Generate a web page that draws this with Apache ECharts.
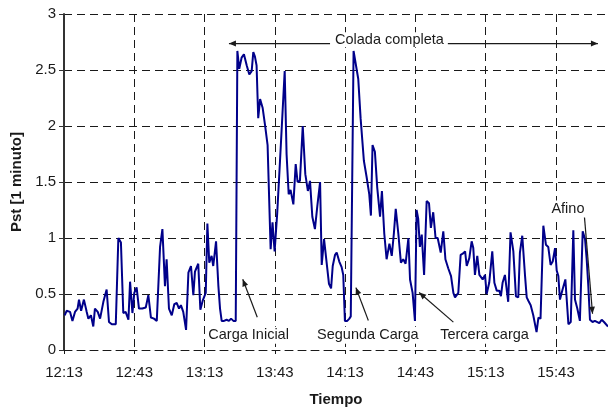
<!DOCTYPE html>
<html>
<head>
<meta charset="utf-8">
<script src="https://cdn.jsdelivr.net/npm/echarts@6/dist/echarts.min.js"></script>
<style>
  html, body { margin: 0; padding: 0; background: #fff; }
  #chart { width: 608px; height: 412px; }
</style>
</head>
<body>
<div id="chart"></div>
<script>
// Minutes elapsed since 12:13 for each 1-minute Pst sample
const minutes = [
  0.3, 1.1, 2.6, 3.6, 4.7, 5.8, 6.4, 7.3, 8.5, 9.7, 10.4, 11.5, 12.5, 13.2, 14.4, 15.4, 16.8, 18.2, 19.2, 20.4,
  22.1, 23.2, 24.3, 25.3, 26.3, 27.5, 28.2, 29.2, 30.0, 31.0, 32.0, 33.4, 34.9, 36.0, 37.1, 38.4, 39.6, 41.0, 42.0, 43.1,
  43.8, 44.8, 46.0, 47.1, 48.1, 49.1, 49.9, 50.9, 52.1, 53.1, 54.2, 55.2, 55.9, 57.3, 58.2, 59.2, 60.5, 61.2, 62.0, 63.0,
  63.7, 64.9, 65.9, 66.6, 67.3, 68.3, 69.4, 70.4, 71.3, 72.3, 73.3, 74.0, 74.8, 75.8, 76.8, 78.0, 79.1, 80.1, 80.8, 81.5,
  82.2, 82.9, 83.7, 84.8, 85.8, 86.9, 88.2, 89.0, 89.9, 91.0, 92.2, 93.3, 94.2, 95.0, 95.9, 96.7, 97.9, 98.9, 99.7, 100.7,
  101.9, 103.0, 104.1, 105.0, 106.0, 107.1, 108.1, 109.3, 110.0, 111.0, 112.1, 113.1, 114.0, 114.7, 115.7, 116.4, 117.5, 118.5, 119.2, 119.9,
  120.9, 121.8, 122.4, 123.6, 125.6, 126.6, 128.0, 129.2, 130.3, 131.0, 131.7, 132.7, 133.7, 134.9, 135.7, 136.7, 137.7, 138.9, 139.9, 140.8,
  141.6, 142.7, 143.8, 144.8, 145.8, 147.0, 147.7, 148.8, 149.8, 150.5, 151.2, 151.9, 152.7, 153.7, 154.8, 155.8, 156.6, 157.6, 158.6, 159.5,
  160.8, 161.9, 162.8, 164.0, 165.2, 166.2, 166.9, 168.3, 169.3, 170.2, 171.2, 171.9, 173.0, 174.0, 174.7, 175.4, 176.4, 177.3, 177.8, 178.7,
  179.7, 180.4, 181.5, 182.8, 183.7, 184.7, 185.8, 186.5, 187.2, 188.2, 188.9, 189.6, 190.6, 191.8, 192.9, 193.9, 194.6, 195.6, 196.8, 197.5,
  198.2, 199.2, 200.3, 201.7, 202.5, 203.4, 204.6, 205.7, 206.7, 207.7, 208.6, 209.6, 210.3, 211.0, 211.7, 212.8, 214.0, 215.3, 216.3, 217.4,
  218.1, 219.1, 220.2, 221.4, 222.4, 223.1, 223.8, 224.5, 225.6, 226.6, 227.3, 228.5, 229.5, 230.5, 231.3, 232.2
];

// Short-term flicker severity Pst [1 minuto]
const pst = [
  0.31, 0.35, 0.34, 0.26, 0.34, 0.37, 0.45, 0.35, 0.45, 0.34, 0.28, 0.31, 0.21, 0.37, 0.34, 0.28, 0.43, 0.54, 0.25, 0.23,
  0.23, 1.00, 0.96, 0.33, 0.34, 0.27, 0.61, 0.33, 0.51, 0.56, 0.37, 0.37, 0.38, 0.49, 0.29, 0.28, 0.26, 0.92, 1.08, 0.57,
  0.81, 0.37, 0.31, 0.41, 0.42, 0.37, 0.40, 0.34, 0.18, 0.69, 0.75, 0.49, 0.70, 0.77, 0.36, 0.44, 0.51, 1.13, 0.78, 0.84,
  0.75, 0.97, 0.57, 0.37, 0.26, 0.26, 0.27, 0.26, 0.28, 0.26, 0.26, 2.67, 2.51, 2.61, 2.64, 2.54, 2.46, 2.49, 2.66, 2.62,
  2.54, 2.07, 2.24, 2.16, 2.01, 1.83, 0.90, 1.14, 0.88, 1.22, 1.69, 2.13, 2.49, 1.75, 1.39, 1.43, 1.30, 1.66, 1.50, 1.51,
  2.00, 1.57, 1.42, 1.51, 1.19, 1.08, 1.28, 1.50, 0.76, 0.99, 0.78, 0.59, 0.55, 0.75, 0.85, 0.87, 0.79, 0.74, 0.67, 0.26,
  0.26, 0.28, 0.30, 2.67, 2.42, 2.07, 1.69, 1.54, 1.39, 1.20, 1.83, 1.77, 1.45, 1.19, 1.42, 1.04, 0.81, 0.95, 0.84, 1.04,
  1.26, 1.04, 0.78, 0.81, 0.77, 1.00, 0.63, 0.51, 0.26, 1.25, 1.17, 0.92, 1.03, 0.67, 1.33, 1.31, 1.09, 1.23, 1.00, 1.00,
  0.87, 1.06, 0.81, 0.73, 0.66, 0.51, 0.47, 0.51, 0.85, 0.86, 0.88, 0.75, 0.82, 0.97, 0.91, 0.67, 0.84, 0.67, 0.66, 0.63,
  0.67, 0.50, 0.60, 0.88, 0.60, 0.53, 0.53, 0.48, 0.60, 0.67, 0.67, 0.43, 1.05, 0.88, 0.48, 0.47, 0.87, 1.02, 0.66, 0.47,
  0.44, 0.40, 0.31, 0.16, 0.29, 0.28, 1.11, 0.94, 0.92, 0.76, 0.79, 0.91, 0.71, 0.66, 0.45, 0.54, 0.63, 0.23, 0.25, 1.07,
  0.45, 0.37, 0.26, 1.06, 0.99, 0.81, 0.57, 0.27, 0.25, 0.26, 0.25, 0.24, 0.27, 0.25, 0.25, 0.21
];

// Time tick labels, one every 30 minutes
const timeLabels = ['12:13', '12:43', '13:13', '13:43', '14:13', '14:43', '15:13', '15:43'];

// Process stage annotations
const noteTexts = ['Colada completa', 'Carga Inicial', 'Segunda Carga', 'Tercera carga', 'Afino'];

const FONT = '"Liberation Sans", Arial, sans-serif';
const INK = '#1a1a1a';
const DASH = [8, 5];

const chart = echarts.init(document.getElementById('chart'), null, { renderer: 'canvas' });

chart.setOption({
  animation: false,
  backgroundColor: '#fff',
  grid: { left: 64, right: 0, top: 14, bottom: 57 },
  xAxis: {
    type: 'value',
    min: 0,
    max: 232.2,
    interval: 30,
    name: 'Tiempo',
    nameLocation: 'middle',
    nameGap: 42,
    nameTextStyle: { fontFamily: FONT, fontSize: 15, fontWeight: 'bold', color: INK },
    axisLine: { show: true, lineStyle: { color: INK, width: 1, type: DASH } },
    axisTick: { show: true, length: 4, lineStyle: { color: INK } },
    axisLabel: {
      fontFamily: FONT, fontSize: 15, color: INK, margin: 15,
      showMaxLabel: false,
      formatter: v => {
        const i = Math.round(v / 30);
        return Math.abs(v - i * 30) < 1e-6 && i < timeLabels.length ? timeLabels[i] : '';
      }
    },
    splitLine: { show: true, showMaxLine: false, lineStyle: { color: INK, width: 1, type: DASH } }
  },
  yAxis: {
    type: 'value',
    min: 0,
    max: 3,
    interval: 0.5,
    name: 'Pst [1 minuto]',
    nameLocation: 'middle',
    nameGap: 39,
    nameTextStyle: { fontFamily: FONT, fontSize: 15, fontWeight: 'bold', color: INK },
    axisLine: { show: true, lineStyle: { color: '#333', width: 2 } },
    axisTick: { show: true, length: 5, lineStyle: { color: '#333' } },
    axisLabel: { fontFamily: FONT, fontSize: 15, color: INK, margin: 8 },
    splitLine: { show: true, lineStyle: { color: INK, width: 1, type: DASH } }
  },
  series: [{
    type: 'line',
    data: minutes.map((m, i) => [m, pst[i]]),
    showSymbol: false,
    lineStyle: { color: '#00008a', width: 2 },
    itemStyle: { color: '#00008a' },
    z: 3
  }]
});

// Annotation layout in data space: [minutes, Pst]
const notes = [
  { text: noteTexts[0], at: [138.7, 2.77], pad: [0, 4, 0, 5] },
  { text: noteTexts[1], at: [78.8, 0.132], pad: [1, 2] },
  { text: noteTexts[2], at: [129.7, 0.132], pad: [1, 2] },
  { text: noteTexts[3], at: [179.5, 0.132], pad: [1, 2] },
  { text: noteTexts[4], at: [215.1, 1.26], pad: [1, 2] }
];
const arrows = [
  { from: [70.4, 2.736], to: [227.9, 2.736], both: true },
  { from: [82.5, 0.293], to: [76.3, 0.631] },
  { from: [129.9, 0.264], to: [124.6, 0.557] },
  { from: [166.2, 0.249], to: [151.6, 0.513] },
  { from: [222.1, 1.20], to: [225.6, 0.323] }
];

const toPx = p => chart.convertToPixel({ gridIndex: 0 }, p);

function head(tip, tail) {
  const dx = tip[0] - tail[0], dy = tip[1] - tail[1];
  const len = Math.hypot(dx, dy) || 1;
  const ux = dx / len, uy = dy / len;
  const L = 7, W = 3;
  const bx = tip[0] - ux * L, by = tip[1] - uy * L;
  return {
    type: 'polygon', z: 100,
    shape: { points: [tip, [bx - uy * W, by + ux * W], [bx + uy * W, by - ux * W]] },
    style: { fill: INK }
  };
}

const graphics = [];
arrows.forEach(a => {
  const p1 = toPx(a.from), p2 = toPx(a.to);
  graphics.push({
    type: 'line', z: 99,
    shape: { x1: p1[0], y1: p1[1], x2: p2[0], y2: p2[1] },
    style: { stroke: INK, lineWidth: 1.2 }
  });
  graphics.push(head(p2, p1));
  if (a.both) graphics.push(head(p1, p2));
});
notes.forEach(n => {
  const p = toPx(n.at);
  graphics.push({
    type: 'text', z: 101,
    x: p[0], y: p[1],
    style: {
      text: n.text, fill: INK, font: '14.5px ' + FONT,
      align: 'center', verticalAlign: 'middle',
      backgroundColor: '#fff', padding: n.pad
    }
  });
});

chart.setOption({ graphic: graphics });
</script>
</body>
</html>
